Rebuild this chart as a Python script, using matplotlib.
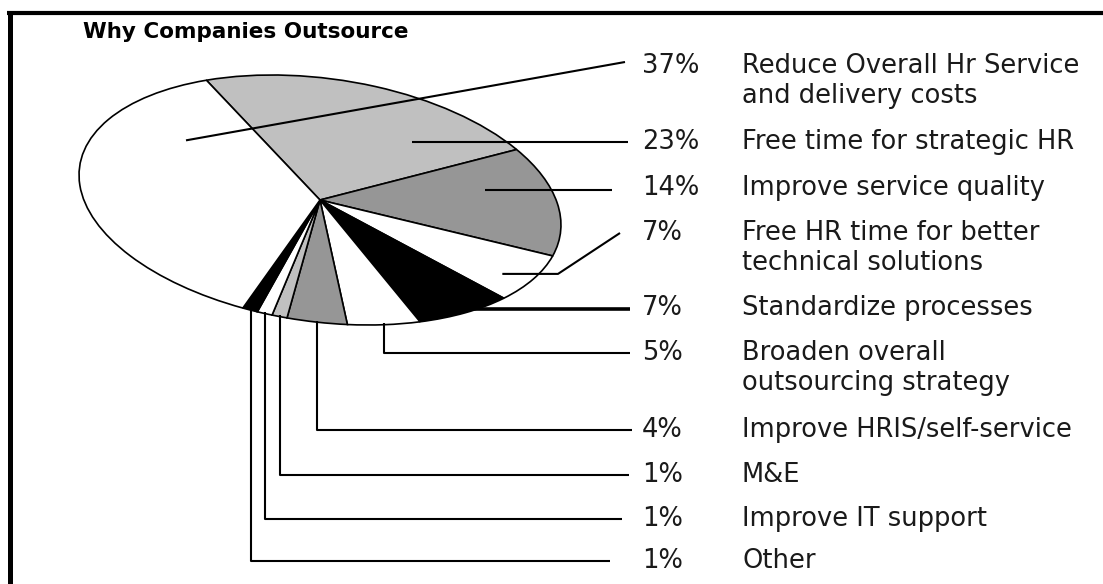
"""
Why Companies Outsource - tilted pie with leader lines"""

import numpy as np
import matplotlib.pyplot as plt
from matplotlib.patches import Wedge
from matplotlib.transforms import Affine2D

TITLE = 'Why Companies Outsource'
PERCENTS = [23, 14, 7, 7, 5, 4, 1, 1, 1, 37]
LABELS = ['Free time for strategic HR',
          'Improve service quality',
          'Free HR time for better\ntechnical solutions',
          'Standardize processes',
          'Broaden overall\noutsourcing strategy',
          'Improve HRIS/self-service',
          'M&E',
          'Improve IT support',
          'Other',
          'Reduce Overall Hr Service\nand delivery costs']
COLORS = ['#c0c0c0', '#969696', 'white', 'black', 'white',
          '#969696', '#c0c0c0', 'white', 'black', 'white']

# pie geometry in pixel space (y down): centre + squash/tilt matrix
CENTER = (320, 200)
SHAPE = [[240.4, 16.5], [16.5, 123.9]]
START_DEG = -114.2

# where each leader line leaves its slice: (fraction of slice angle, radius)
ANCHORS = [(0.76, 0.67), (0.35, 0.72), (0.62, 0.88), (0.42, 0.98), (0.5, 0.99),
           (0.5, 0.99), (0.5, 0.99), (0.5, 0.99), (0.5, 0.99), (0.79, 0.67)]
ROW_Y = [142, 188, 233, 308, 353, 430, 475, 519, 561, 66]
LINE_END_X = [628, 612, 620, 630, 630, 632, 629, 622, 610, 625]
KIND = ['flat', 'flat', 'kink', 'flat', 'drop', 'drop', 'drop', 'drop', 'drop', 'slant']

fig = plt.figure(figsize=(11.03, 5.84), dpi=100)
ax = fig.add_axes([0, 0, 1, 1])
ax.set_xlim(0, 1103)
ax.set_ylim(584, 0)
ax.axis('off')

mat = np.array([[SHAPE[0][0], SHAPE[0][1], CENTER[0]],
                [SHAPE[1][0], SHAPE[1][1], CENTER[1]],
                [0, 0, 1]])
pie_tr = Affine2D(mat)

edges = START_DEG + 3.6 * np.concatenate([[0], np.cumsum(PERCENTS)])
for i, pct in enumerate(PERCENTS):
    w = Wedge((0, 0), 1, edges[i], edges[i + 1], facecolor=COLORS[i],
              edgecolor='black', linewidth=1.2)
    w.set_transform(pie_tr + ax.transData)
    ax.add_patch(w)

for i, pct in enumerate(PERCENTS):
    frac, r = ANCHORS[i]
    ang = np.radians(edges[i] + frac * (edges[i + 1] - edges[i]))
    x0, y0 = pie_tr.transform((r * np.cos(ang), r * np.sin(ang)))
    y = ROW_Y[i]
    x1 = LINE_END_X[i]
    lw = 1.5
    if KIND[i] == 'flat':
        xs, ys = [x0, x1], [y0, y0]
        if i == 3:
            lw = 2.6
    elif KIND[i] == 'kink':
        xs, ys = [x0, 558, x1], [y0, y0, y]
    elif KIND[i] == 'drop':
        xs, ys = [x0, x0, x1], [y0, y, y]
    else:
        xs, ys = [x0, x1], [y0, y - 4]
    ax.plot(xs, ys, color='black', lw=lw, solid_capstyle='butt')

    ax.text(642, y, f'{pct}%', fontsize=18.5, color='#1a1a1a',
            ha='left', va='center')
    for j, line in enumerate(LABELS[i].split('\n')):
        ax.text(742, y + 30 * j, line, fontsize=18.5, color='#1a1a1a',
                ha='left', va='center')

ax.text(83, 32, TITLE, fontsize=15.5, fontweight='bold', color='black',
        ha='left', va='center')

# heavy frame on top and left side
ax.plot([7, 1103], [13, 13], color='black', lw=3, solid_capstyle='butt')
ax.plot([10, 10], [11, 584], color='black', lw=3.6, solid_capstyle='butt')

plt.savefig('out.png', dpi=100)
